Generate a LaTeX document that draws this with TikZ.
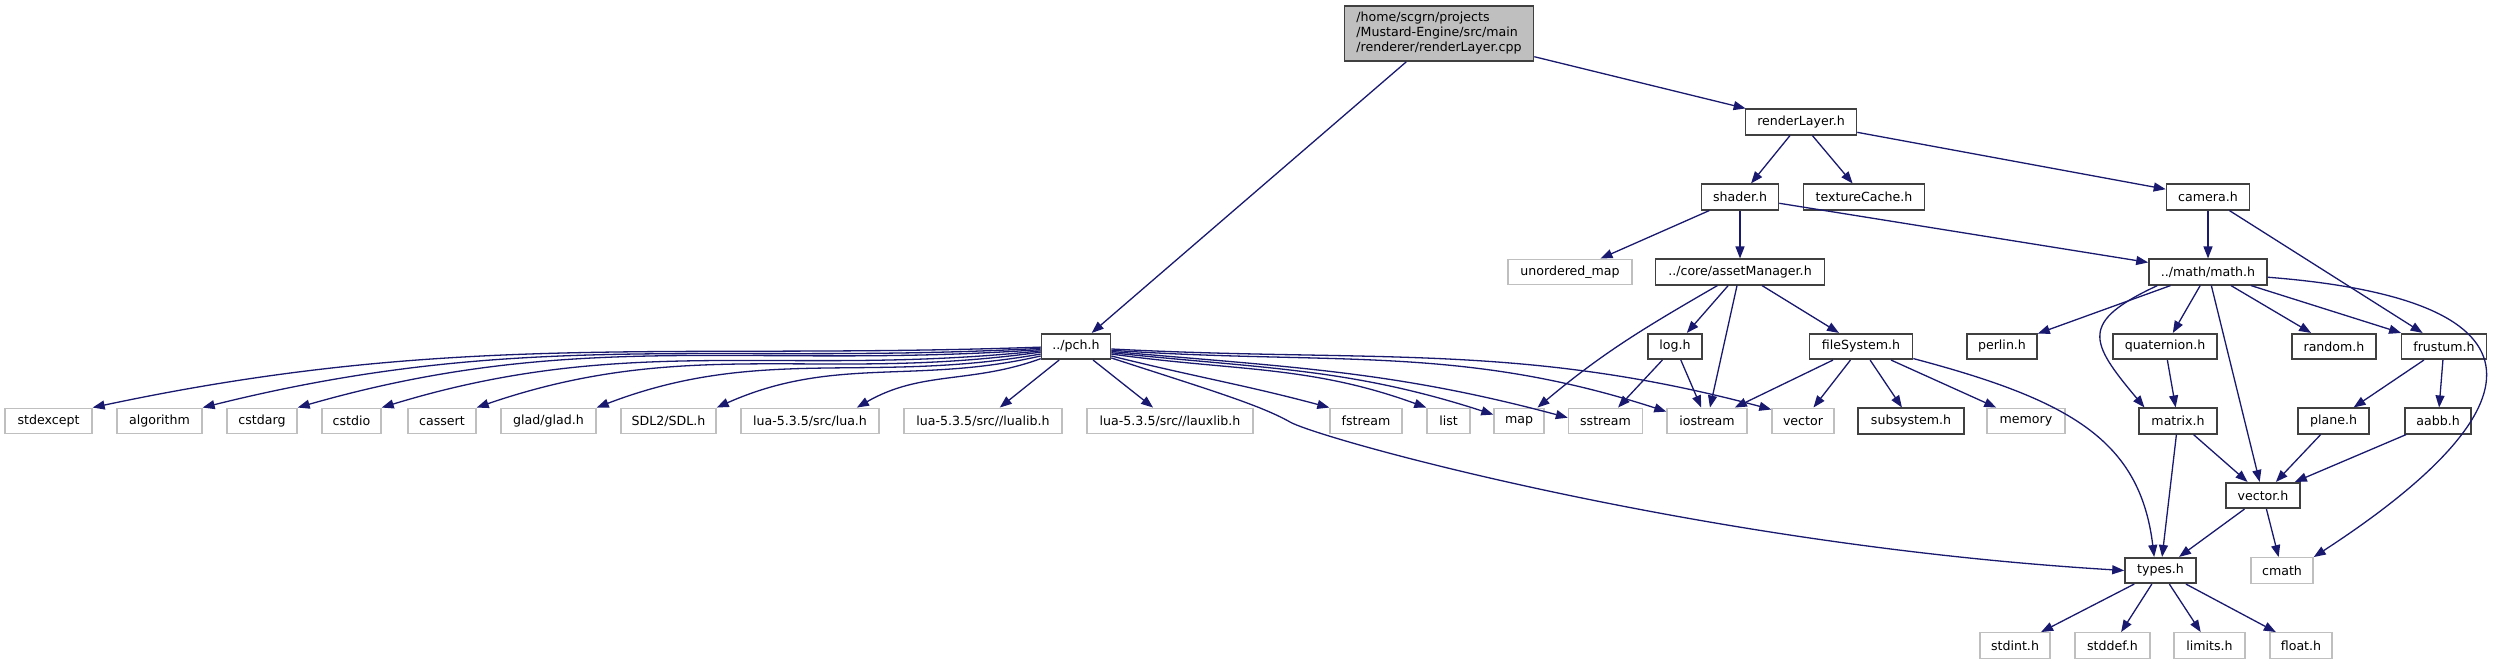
\documentclass[tikz,border=0pt]{standalone}
\usepackage{fontspec}
\setmainfont{DejaVu Sans}
\usetikzlibrary{arrows.meta}
\definecolor{edgeblue}{HTML}{191970}
\definecolor{boxdark}{HTML}{404040}
\definecolor{boxlight}{HTML}{BFBFBF}

\begin{document}
\begin{tikzpicture}[x=1pt, y=1pt,
    font=\fontsize{12.6}{15}\selectfont,
    hdr/.style={draw=boxdark, line width=1.6pt, fill=white, inner sep=0pt, minimum height=25.5pt},
    sys/.style={hdr, draw=boxlight, line width=1.4pt},
    root/.style={hdr, fill=boxlight, align=left, minimum height=55pt},
    dep/.style={-{Triangle[length=12pt,width=9pt]}, color=edgeblue, line width=1.3pt}]
    % Canvas
    \path[use as bounding box, fill=white] (0,0) rectangle (2520,-664);

    % Source file and its own headers
    \node[root, minimum width=189pt] (main) at (1439,-33.5) {/home/scgrn/projects\\/Mustard-Engine/src/main\\/renderer/renderLayer.cpp};
    \node[hdr, minimum width=111pt] (renderLayer) at (1801,-122) {renderLayer.h};
    \node[hdr, minimum width=77pt] (shader) at (1740,-197) {shader.h};
    \node[hdr, minimum width=121pt] (textureCache) at (1864,-197) {textureCache.h};
    \node[hdr, minimum width=83pt] (camera) at (2208,-197) {camera.h};
    \node[sys, minimum width=124pt] (unorderedMap) at (1570,-272) {unordered\_map};
    \node[hdr, minimum width=169pt] (assetManager) at (1740,-272) {../core/assetManager.h};
    \node[hdr, minimum width=118pt] (math) at (2208,-272) {../math/math.h};
    \node[hdr, minimum width=69pt] (pch) at (1076,-346.5) {../pch.h};
    \node[hdr, minimum width=54pt] (log) at (1675,-346.5) {log.h};
    \node[hdr, minimum width=103pt] (fileSystem) at (1861,-346.5) {fileSystem.h};
    \node[hdr, minimum width=70pt] (perlin) at (2002,-346.5) {perlin.h};
    \node[hdr, minimum width=104pt] (quaternion) at (2165,-346.5) {quaternion.h};
    \node[hdr, minimum width=84pt] (random) at (2334,-346.5) {random.h};
    \node[hdr, minimum width=85pt] (frustum) at (2444,-346.5) {frustum.h};

    % Row of included files
    \node[sys, minimum width=87pt] (stdexcept) at (48.5,-421) {stdexcept};
    \node[sys, minimum width=85pt] (algorithm) at (159.5,-421) {algorithm};
    \node[sys, minimum width=70pt] (cstdarg) at (262,-421) {cstdarg};
    \node[sys, minimum width=59pt] (cstdio) at (351.5,-421) {cstdio};
    \node[sys, minimum width=68pt] (cassert) at (442,-421) {cassert};
    \node[sys, minimum width=95pt] (glad) at (548.5,-421) {glad/glad.h};
    \node[sys, minimum width=95pt] (sdl) at (668.5,-421) {SDL2/SDL.h};
    \node[sys, minimum width=138pt] (lua) at (810,-421) {lua-5.3.5/src/lua.h};
    \node[sys, minimum width=158pt] (lualib) at (983,-421) {lua-5.3.5/src//lualib.h};
    \node[sys, minimum width=166pt] (lauxlib) at (1170,-421) {lua-5.3.5/src//lauxlib.h};
    \node[sys, minimum width=72pt] (fstream) at (1366,-421) {fstream};
    \node[sys, minimum width=43pt] (list) at (1448.5,-421) {list};
    \node[sys, minimum width=50pt] (map) at (1519,-421) {map};
    \node[sys, minimum width=74pt] (sstream) at (1605.5,-421) {sstream};
    \node[sys, minimum width=80pt] (iostream) at (1707,-421) {iostream};
    \node[sys, minimum width=62pt] (vector) at (1803,-421) {vector};
    \node[hdr, minimum width=106pt] (subsystem) at (1911,-421) {subsystem.h};
    \node[sys, minimum width=78pt] (memory) at (2026,-421) {memory};
    \node[hdr, minimum width=78pt] (matrix) at (2178,-421) {matrix.h};
    \node[hdr, minimum width=71pt] (plane) at (2333.5,-421) {plane.h};
    \node[hdr, minimum width=66pt] (aabb) at (2438,-421) {aabb.h};

    % Bottom of the graph
    \node[hdr, minimum width=74pt] (vectorh) at (2263,-495.5) {vector.h};
    \node[hdr, minimum width=71pt] (types) at (2160.5,-570.5) {types.h};
    \node[sys, minimum width=62pt] (cmath) at (2282,-570.5) {cmath};
    \node[sys, minimum width=70pt] (stdint) at (2015,-645.5) {stdint.h};
    \node[sys, minimum width=75pt] (stddef) at (2112.5,-645.5) {stddef.h};
    \node[sys, minimum width=71pt] (limits) at (2209.5,-645.5) {limits.h};
    \node[sys, minimum width=62pt] (float) at (2301,-645.5) {float.h};

    % renderLayer.cpp
    \draw[dep] (main) -- (pch);
    \draw[dep] (main) -- (renderLayer);

    % renderLayer.h
    \draw[dep] (renderLayer) -- (shader);
    \draw[dep] (renderLayer) -- (textureCache);
    \draw[dep] (renderLayer) -- (camera);

    % shader.h and camera.h
    \draw[dep] (shader) -- (unorderedMap);
    \draw[dep] (shader) -- (assetManager);
    \draw[dep] (shader) -- (math);
    \draw[dep] (camera) -- (math);
    \draw[dep] (camera) -- (frustum);

    % assetManager.h
    \draw[dep] (assetManager.211) to[out=210, in=40] (map.36);
    \draw[dep] (assetManager) -- (log);
    \draw[dep] (assetManager) -- (iostream);
    \draw[dep] (assetManager) -- (fileSystem);
    \draw[dep] (log) -- (sstream);
    \draw[dep] (log) -- (iostream);

    % fileSystem.h
    \draw[dep] (fileSystem) -- (iostream);
    \draw[dep] (fileSystem) -- (vector);
    \draw[dep] (fileSystem) -- (subsystem);
    \draw[dep] (fileSystem) -- (memory);
    \draw[dep] (fileSystem.-13) .. controls (2070,-400) and (2140,-440) .. (types.115);

    % pch.h, to the left
    \draw[dep] (pch.181) to[out=182, in=12] (stdexcept.north east);
    \draw[dep] (pch.183) to[out=183, in=14] (algorithm.north east);
    \draw[dep] (pch.185) to[out=184, in=16] (cstdarg.north east);
    \draw[dep] (pch.187) to[out=186, in=17] (cstdio.north east);
    \draw[dep] (pch.189) to[out=188, in=19] (cassert.north east);
    \draw[dep] (pch.192) to[out=190, in=21] (glad.north east);
    \draw[dep] (pch.195) to[out=193, in=24] (sdl.north east);
    \draw[dep] (pch.199) to[out=200, in=30] (lua.16);
    \draw[dep] (pch) -- (lualib);
    \draw[dep] (pch) -- (lauxlib);

    % pch.h, to the right
    \draw[dep] (pch.-15) to[out=-14, in=165] (fstream.north west);
    \draw[dep] (pch.-12) to[out=-8, in=160] (list.north west);
    \draw[dep] (pch.-10) to[out=-6, in=162] (map.166);
    \draw[dep] (pch.-8) to[out=-5, in=165] (sstream.175);
    \draw[dep] (pch.-6) to[out=-4, in=162] (iostream.167);
    \draw[dep] (pch.-4) to[out=-3, in=165] (vector.160);
    \draw[dep] (pch.-18) .. controls (1210,-390) and (1260,-405) .. (1290,-422)
        .. controls (1320,-439) and (1700,-545) .. (types.west);

    % math.h
    \draw[dep] (math) -- (perlin);
    \draw[dep] (math.195) to[out=205, in=130, looseness=1.8] (matrix.158);
    \draw[dep] (math) -- (quaternion);
    \draw[dep] (math) -- (vectorh);
    \draw[dep] (math) -- (random);
    \draw[dep] (math) -- (frustum);
    \draw[dep] (math.-5) .. controls (2560,-300) and (2540,-410) .. (cmath.north east);

    % math headers
    \draw[dep] (quaternion) -- (matrix);
    \draw[dep] (frustum) -- (plane);
    \draw[dep] (frustum) -- (aabb);
    \draw[dep] (matrix) -- (vectorh);
    \draw[dep] (matrix) -- (types);
    \draw[dep] (plane) -- (vectorh);
    \draw[dep] (aabb) -- (vectorh);
    \draw[dep] (vectorh) -- (types);
    \draw[dep] (vectorh) -- (cmath);

    % types.h
    \draw[dep] (types) -- (stdint);
    \draw[dep] (types) -- (stddef);
    \draw[dep] (types) -- (limits);
    \draw[dep] (types) -- (float);
\end{tikzpicture}
\end{document}
